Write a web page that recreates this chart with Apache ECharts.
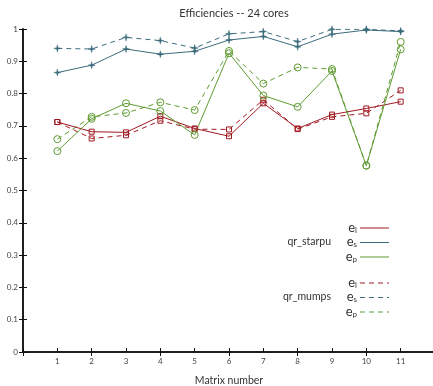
<!DOCTYPE html>
<html>
<head>
<meta charset="utf-8">
<style>
  html, body { margin: 0; padding: 0; background: #fff; }
  #chart { width: 433px; height: 386px; }
</style>
<script src="https://cdn.jsdelivr.net/npm/echarts@6/dist/echarts.min.js"></script>
</head>
<body>
<div id="chart"></div>
<script>
// Matrix numbers along the x axis
var matrices = [1, 2, 3, 4, 5, 6, 7, 8, 9, 10, 11];

// qr_starpu efficiencies
var starpuEl = [0.712, 0.682, 0.680, 0.730, 0.692, 0.668, 0.770, 0.692, 0.735, 0.754, 0.775];
var starpuEs = [0.865, 0.888, 0.938, 0.922, 0.931, 0.966, 0.977, 0.945, 0.984, 0.997, 0.992];
var starpuEp = [0.622, 0.722, 0.770, 0.746, 0.672, 0.925, 0.794, 0.759, 0.870, 0.577, 0.937];

// qr_mumps efficiencies
var mumpsEl = [0.712, 0.661, 0.671, 0.716, 0.690, 0.689, 0.781, 0.690, 0.728, 0.739, 0.810];
var mumpsEs = [0.940, 0.938, 0.974, 0.964, 0.941, 0.985, 0.992, 0.961, 0.999, 0.999, 0.994];
var mumpsEp = [0.659, 0.728, 0.740, 0.773, 0.749, 0.932, 0.831, 0.881, 0.876, 0.577, 0.960];

// Legend entries: group label, metric subscript
var legendGroups = ['qr_starpu', 'qr_mumps'];
var metricSubs = ['l', 's', 'p'];

var RED = '#a01a22', BLUE = '#3b6b7b', GREEN = '#5f9b31';
var FONT = 'Lato, "DejaVu Sans", sans-serif';

var starPath = 'path://M5,0 L6,4 L10,5 L6,6 L5,10 L4,6 L0,5 L4,4 Z';

function pairs(vals) {
  return matrices.map(function (m, i) { return [m, vals[i]]; });
}

function lineSeries(name, vals, color, dashed, symbol, size) {
  var hollow = symbol !== starPath;
  return {
    name: name,
    type: 'line',
    data: pairs(vals),
    symbol: symbol,
    symbolSize: size,
    lineStyle: { color: color, width: 1, type: dashed ? [5, 4] : 'solid' },
    itemStyle: hollow
      ? { color: 'rgba(255,255,255,0)', borderColor: color, borderWidth: 1 }
      : { color: color, borderColor: color, borderWidth: 0.5 },
    emphasis: { disabled: true },
    animation: false,
    z: dashed ? 3 : 4
  };
}

var series = [
  lineSeries('starpu e_l', starpuEl, RED, false, 'rect', 5),
  lineSeries('starpu e_s', starpuEs, BLUE, false, starPath, 7),
  lineSeries('starpu e_p', starpuEp, GREEN, false, 'circle', 7),
  lineSeries('mumps e_l', mumpsEl, RED, true, 'rect', 5),
  lineSeries('mumps e_s', mumpsEs, BLUE, true, starPath, 7),
  lineSeries('mumps e_p', mumpsEp, GREEN, true, 'circle', 7)
];

// Legend drawn as text plus short line samples
var legendColors = [RED, BLUE, GREEN];
var graphics = [];
var groupTops = [227, 282];
legendGroups.forEach(function (g, gi) {
  var top = groupTops[gi];
  graphics.push({
    type: 'text',
    x: 331, y: top + 14.5,
    style: { text: g, font: '10.5px ' + FONT, fill: '#333', textAlign: 'right', textVerticalAlign: 'middle' }
  });
  metricSubs.forEach(function (s, si) {
    var yy = top + si * 14.5;
    graphics.push({
      type: 'text',
      x: 357, y: yy,
      style: {
        text: '{e|e}{s|' + s + '}',
        textAlign: 'right',
        textVerticalAlign: 'middle',
        rich: {
          e: { font: '13px ' + FONT, fill: '#333', verticalAlign: 'bottom' },
          s: { font: '8px ' + FONT, fill: '#333', padding: [6, 0, 0, 0] }
        }
      }
    });
    graphics.push({
      type: 'line',
      shape: { x1: 360, y1: yy + 1, x2: 389, y2: yy + 1 },
      style: { stroke: legendColors[si], lineWidth: 1, lineDash: gi === 1 ? [5, 4] : null }
    });
  });
});

var axisLineStyle = { color: '#111', width: 1.5 };

var option = {
  backgroundColor: '#fff',
  animation: false,
  title: {
    text: 'Efficiencies -- 24 cores',
    left: 229, top: 3, textAlign: 'center',
    textStyle: { fontFamily: FONT, fontSize: 11, fontWeight: 'normal', color: '#333' }
  },
  grid: { left: 23, top: 29, width: 412, height: 323, containLabel: false, outerBoundsMode: 'none' },
  xAxis: [{
    type: 'value', min: 0, max: 12, interval: 1,
    name: 'Matrix number', nameLocation: 'middle', nameGap: 23,
    nameTextStyle: { fontFamily: FONT, fontSize: 10.5, color: '#333' },
    axisLine: { lineStyle: axisLineStyle },
    axisTick: { inside: true, length: 4, lineStyle: { color: '#111' } },
    axisLabel: {
      margin: 5, fontFamily: FONT, fontSize: 8, color: '#444',
      formatter: function (v) { return (v >= 1 && v <= 11) ? String(v) : ''; }
    },
    splitLine: { show: false }
  }, {
    type: 'value', position: 'top', min: 0, max: 12, interval: 2,
    axisLine: { show: true, lineStyle: axisLineStyle },
    axisTick: { inside: true, length: 4, lineStyle: { color: '#111' } },
    axisLabel: { show: false },
    splitLine: { show: false }
  }],
  yAxis: [{
    type: 'value', min: 0, max: 1, interval: 0.1,
    axisLine: { show: true, lineStyle: axisLineStyle },
    axisTick: { show: true, inside: true, length: 4, lineStyle: { color: '#111' } },
    axisLabel: {
      margin: 5, fontFamily: FONT, fontSize: 8, color: '#444',
      formatter: function (v) {
        if (v === 0) return '0';
        if (Math.abs(v - 1) < 1e-9) return '1';
        return v.toFixed(1);
      }
    },
    splitLine: { show: false }
  }, {
    type: 'value', position: 'right', min: 0, max: 1, interval: 0.1,
    axisLine: { show: true, lineStyle: axisLineStyle },
    axisTick: { show: true, inside: true, length: 4, lineStyle: { color: '#111' } },
    axisLabel: { show: false },
    splitLine: { show: false }
  }],
  graphic: graphics,
  series: series
};

var chart = echarts.init(document.getElementById('chart'), null, { renderer: 'canvas' });
chart.setOption(option);
</script>
</body>
</html>
